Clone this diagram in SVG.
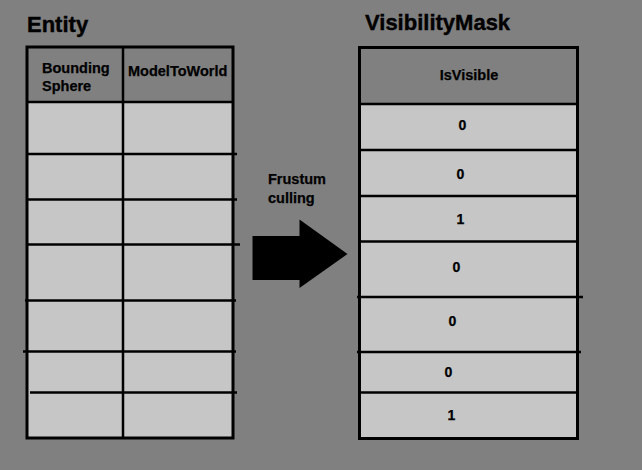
<svg xmlns="http://www.w3.org/2000/svg" width="642" height="470" viewBox="0 0 642 470">
  <style>
    .bg { fill: #808080; }
    .head { fill: #808080; }
    .cell { fill: #c6c6c6; }
    .frame { fill: none; stroke: #000; stroke-width: 3; }
    .rule { stroke: #000; stroke-width: 2.5; fill: none; }
    text { font-family: "Liberation Sans", Arial, sans-serif; font-weight: bold; fill: #000; }
    .title { font-size: 22px; stroke: #000; stroke-width: 0.4; }
    .label { font-size: 14.5px; stroke: #000; stroke-width: 0.25; }
    .bit { font-size: 14px; text-anchor: middle; stroke: #000; stroke-width: 0.25; }
  </style>

  <rect class="bg" x="0" y="0" width="642" height="470"/>

  <!-- Entity table: bounding sphere and model-to-world columns -->
  <g id="entity">
    <text class="title" x="27" y="31.5">Entity</text>
    <rect class="head" x="27" y="47" width="206" height="55"/>
    <rect class="cell" x="27" y="102" width="206" height="336"/>
    <line class="rule" x1="123" y1="47" x2="123" y2="438"/>
    <line class="rule" x1="27" y1="102" x2="233" y2="102"/>
    <line class="rule" x1="27" y1="154" x2="237" y2="154"/>
    <line class="rule" x1="27" y1="199.5" x2="237" y2="199.5"/>
    <line class="rule" x1="27" y1="244.5" x2="240" y2="244.5"/>
    <line class="rule" x1="25" y1="300.5" x2="236" y2="300.5"/>
    <line class="rule" x1="23" y1="351.5" x2="236" y2="351.5"/>
    <line class="rule" x1="30" y1="392.5" x2="237" y2="392.5"/>
    <rect class="frame" x="27" y="47" width="206" height="391"/>
    <text class="label" x="42" y="72.5">Bounding</text>
    <text class="label" x="42" y="91">Sphere</text>
    <text class="label" x="128" y="76">ModelToWorld</text>
  </g>

  <!-- VisibilityMask table: one bit per entity -->
  <g id="visibility-mask">
    <text class="title" x="365" y="29.5">VisibilityMask</text>
    <rect class="head" x="359.5" y="47.5" width="218" height="56.5"/>
    <rect class="cell" x="359.5" y="104" width="218" height="334.5"/>
    <line class="rule" x1="359.5" y1="104" x2="577.5" y2="104"/>
    <line class="rule" x1="359.5" y1="150" x2="579" y2="150"/>
    <line class="rule" x1="359.5" y1="196" x2="579" y2="196"/>
    <line class="rule" x1="359.5" y1="241.5" x2="577.5" y2="241.5"/>
    <line class="rule" x1="357" y1="297" x2="583" y2="297"/>
    <line class="rule" x1="357" y1="352" x2="581" y2="352"/>
    <line class="rule" x1="359.5" y1="392.5" x2="579" y2="392.5"/>
    <rect class="frame" x="359.5" y="47.5" width="218" height="391"/>
    <text class="label" x="469" y="80" text-anchor="middle">IsVisible</text>
    <text class="bit" x="462.5" y="129.5">0</text>
    <text class="bit" x="460.5" y="178.5">0</text>
    <text class="bit" x="460.5" y="223.5">1</text>
    <text class="bit" x="456.5" y="271.5">0</text>
    <text class="bit" x="452.5" y="325.5">0</text>
    <text class="bit" x="448.5" y="376.5">0</text>
    <text class="bit" x="451.5" y="420">1</text>
  </g>

  <!-- Culling step between the two tables -->
  <g id="connectors">
    <text class="label" x="268" y="184">Frustum</text>
    <text class="label" x="268" y="203">culling</text>
    <polygon fill="#000" points="252.5,236 299.5,236 299.5,219.5 347.5,254 299.5,288 299.5,280 252.5,280"/>
  </g>
</svg>
